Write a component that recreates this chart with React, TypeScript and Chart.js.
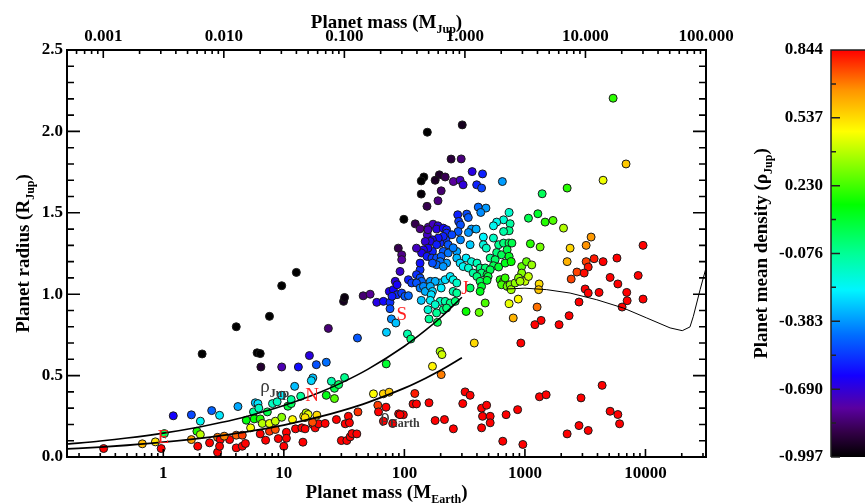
import React, { useEffect, useRef } from 'react';
import { Chart, registerables } from 'chart.js';

Chart.register(...registerables);

const SERIF = '"Liberation Serif", "DejaVu Serif", serif';
const M_EARTH_PER_JUP = 317.8;
const X_MIN_EARTH = 0.1589;
const X_MAX_EARTH = 31780;
const X_MIN_JUP = 0.0005;
const X_MAX_JUP = 100;
const Y_MIN = 0;
const Y_MAX = 2.5;
const DENSITY_MIN = -0.997;
const DENSITY_MAX = 0.844;

const bottomTicks = [1, 10, 100, 1000, 10000];
const topTicks = [0.001, 0.01, 0.1, 1, 10, 100];
const radiusTicks = [0, 0.5, 1, 1.5, 2, 2.5];
const densityTicks = [-0.997, -0.69, -0.383, -0.076, 0.23, 0.537, 0.844];

// [mass (M_Earth), radius (R_Jup)]
const rockyPlanets: [number, number][] = [
  [0.32, 0.052], [0.67, 0.081], [0.86, 0.093], [0.96, 0.052], [1.02, 0.144], [1.21, 0.253],
  [1.71, 0.107], [1.71, 0.259], [1.9, 0.158], [2.03, 0.138], [1.93, 0.066], [2.03, 0.22],
  [2.1, 0.633], [2.52, 0.285], [2.42, 0.087], [2.82, 0.121], [2.97, 0.107], [2.93, 0.256],
  [2.82, 0.029], [2.93, 0.066], [3.55, 0.107], [3.2, 0.128], [4.03, 0.8], [4.16, 0.31],
  [4.03, 0.134], [4.03, 0.056], [4.52, 0.134], [4.52, 0.066], [4.8, 0.083], [4.88, 0.226],
  [5.3, 0.179], [6.0, 0.64], [6.37, 0.635], [6.45, 0.553], [5.6, 0.277], [5.8, 0.333],
  [6.1, 0.328], [6.2, 0.3], [5.7, 0.234], [6.37, 0.142], [6.37, 0.234], [6.62, 0.206],
  [7.06, 0.103], [7.3, 0.277], [7.6, 0.206], [7.6, 0.864], [7.6, 0.158], [8.05, 0.328],
  [8.5, 0.22], [8.5, 0.169], [8.8, 0.339], [9.0, 0.113], [9.6, 1.052], [9.6, 0.553],
  [9.6, 0.379], [9.6, 0.244], [10.0, 0.066], [10.5, 0.152], [10.8, 0.312], [11.5, 0.328],
  [11.8, 0.23], [11.5, 0.353], [12.3, 0.434], [12.5, 0.173], [12.7, 1.134], [13.2, 0.553],
  [13.8, 0.373], [14.1, 0.179], [14.4, 0.091], [14.6, 0.25], [15.3, 0.271], [15.9, 0.261],
  [15.0, 0.242], [16.3, 0.623], [17.4, 0.2], [17.4, 0.486], [16.9, 0.469], [18.6, 0.567],
  [18.8, 0.257], [18.2, 0.179], [19.4, 0.204], [22.0, 0.206], [22.5, 0.582], [22.5, 0.379],
  [23.4, 0.79], [24.8, 0.465], [26.3, 0.422], [26.3, 0.359], [27.3, 0.23], [28.5, 0.445],
  [30.0, 0.101], [31.3, 0.956], [31.9, 0.98], [31.9, 0.488], [32.3, 0.204], [33.3, 0.101],
  [34.3, 0.25], [35.5, 0.124], [35.0, 0.21], [36.8, 0.144], [40.3, 0.142], [41.2, 0.277],
  [40.8, 0.731], [17.3, 0.213], [15.0, 0.173], [10.5, 0.115],
];

const inflatedGiants: [number, number][] = [
  [155, 1.995], [145, 1.72], [138, 1.696], [195, 1.733], [180, 1.7], [218, 1.72], [138, 1.615],
  [202, 1.635], [190, 1.574], [154, 1.54], [99, 1.46], [123, 1.432], [135, 1.402], [158, 1.412],
  [173, 1.43], [190, 1.42], [185, 1.4], [210, 1.406], [224, 1.396], [155, 1.365],
  [302, 2.04], [244, 1.83], [296, 1.831], [255, 1.692], [290, 1.7], [307, 1.672], [365, 1.753],
  [445, 1.739], [398, 1.672], [437, 1.652], [650, 1.692], [410, 1.535], [475, 1.529], [430, 1.502],
  [277, 1.488], [329, 1.492], [339, 1.471], [282, 1.447], [292, 1.426], [279, 1.385], [360, 1.4],
  [394, 1.4], [224, 1.375], [340, 1.379], [452, 1.351], [548, 1.345],
];

const hotJupiters: [number, number][] = [
  [740, 1.502], [665, 1.457], [583, 1.443], [548, 1.42], [754, 1.433], [740, 1.39], [665, 1.385],
  [221, 1.334], [248, 1.365], [231, 1.304], [198, 1.314], [210, 1.263], [231, 1.253], [272, 1.263],
  [254, 1.285], [292, 1.334], [351, 1.304], [452, 1.304], [478, 1.283], [605, 1.304], [665, 1.314],
  [740, 1.314], [780, 1.314], [583, 1.256], [640, 1.242], [712, 1.273], [740, 1.232],
  [224, 1.191], [272, 1.222], [290, 1.191], [307, 1.17], [325, 1.222], [360, 1.2], [400, 1.191],
  [340, 1.161], [425, 1.161], [468, 1.161], [437, 1.13], [372, 1.13], [400, 1.109], [485, 1.12],
  [515, 1.222], [566, 1.212], [548, 1.175], [515, 1.15], [495, 1.109], [425, 1.079], [437, 1.048],
  [425, 1.017], [485, 1.085], [605, 1.167], [685, 1.191], [770, 1.2], [623, 1.089], [665, 1.079],
  [685, 1.1], [640, 1.058], [712, 1.048], [754, 1.058], [770, 1.028], [829, 1.069], [940, 1.17],
  [1030, 1.2], [1140, 1.18], [940, 1.13], [885, 1.1], [1000, 1.079], [912, 1.079], [1070, 1.109],
  [351, 1.038], [198, 1.069], [218, 1.089], [240, 1.109], [254, 1.089], [272, 1.069], [254, 1.017],
  [272, 1.007], [198, 0.956], [218, 0.956], [240, 0.946], [264, 0.956], [210, 0.905], [224, 0.915],
  [325, 0.894], [417, 0.888], [468, 0.946],
  [157, 1.396], [210, 1.355], [191, 1.345], [171, 1.334], [164, 1.324], [149, 1.324], [185, 1.304],
  [171, 1.263], [157, 1.283], [144, 1.273], [139, 1.253], [154, 1.232], [169, 1.222], [185, 1.222],
  [202, 1.232], [198, 1.2], [185, 1.181], [171, 1.191], [210, 1.17], [89, 1.283], [95, 1.242],
  [95, 1.212], [126, 1.283], [92, 1.14], [135, 1.15], [135, 1.191], [45.5, 0.99], [52, 1.0],
  [59, 0.95], [67, 0.956], [76, 0.95], [75, 1.017], [81, 1.028], [84, 1.079], [87, 1.058],
  [87, 0.997], [95, 1.007], [101, 0.987], [108, 0.991], [79, 0.987], [108, 1.089], [115, 1.069],
  [126, 1.12], [135, 1.1], [139, 1.079], [126, 1.069], [135, 1.038], [144, 1.048], [149, 1.017],
  [164, 1.079], [180, 1.079], [164, 1.048], [202, 1.038], [171, 1.017], [167, 0.997], [138, 0.962],
  [164, 0.962], [180, 0.936], [76, 0.911], [78, 0.848], [85, 0.823], [157, 0.905], [160, 0.848],
  [185, 0.885], [188, 0.827], [71, 0.766], [106, 0.756], [113, 0.725],
];

const denseGiants: [number, number][] = [
  [55.4, 0.388], [60.2, 0.318], [61, 0.277], [66.9, 0.388], [67, 0.22], [70.4, 0.306], [74.8, 0.398],
  [80, 0.206], [89.6, 0.265], [98, 0.26], [92, 0.26], [122, 0.39], [118, 0.326], [126, 0.326],
  [160, 0.333], [180, 0.224], [215, 0.23], [255, 0.173], [305, 0.328], [319, 0.4], [351, 0.379],
  [437, 0.3], [481, 0.318], [445, 0.25], [515, 0.25], [437, 0.179], [515, 0.21], [698, 0.26],
  [870, 0.291], [655, 0.097], [961, 0.077], [1320, 0.37], [1500, 0.382], [198, 0.649], [205, 0.629],
  [171, 0.557], [202, 0.506], [380, 0.7], [925, 0.7], [70.7, 0.572],
];

const massiveGiants: [number, number][] = [
  [2870, 2.52], [5390, 2.204], [6900, 1.8], [4450, 1.7], [2240, 1.652], [1390, 1.617], [1070, 1.467],
  [1280, 1.494], [1470, 1.443], [1710, 1.453], [2090, 1.406], [3540, 1.351], [3220, 1.3], [2370, 1.283],
  [9550, 1.3], [1110, 1.31], [1337, 1.29], [2240, 1.2], [3220, 1.2], [3750, 1.218], [4450, 1.2],
  [5800, 1.222], [3350, 1.167], [2700, 1.136], [3100, 1.13], [2420, 1.093], [5090, 1.103], [5900, 1.063],
  [8700, 1.115], [3160, 1.032], [3350, 1.007], [4120, 1.011], [6990, 1.011], [7050, 0.96], [9550, 0.97],
  [6400, 0.921], [2810, 0.952], [1262, 0.921], [1362, 0.839], [1210, 0.813], [1920, 0.813], [2325, 0.868],
  [800, 0.854], [740, 0.942], [880, 0.97], [1312, 1.063], [1300, 1.028], [4370, 0.44], [2920, 0.363],
  [2240, 0.142], [2810, 0.193], [3350, 0.163], [5090, 0.281], [5900, 0.261], [6100, 0.204],
];

// iso-density and model curves [mass (M_Earth), radius (R_Jup)]
const jupDensityCurve: [number, number][] = [
  [0.1589, 0.0794], [0.3, 0.0981], [0.5, 0.1163], [1, 0.1466], [2, 0.1847], [3, 0.2114], [5, 0.2507],
  [10, 0.3158], [20, 0.3979], [30, 0.4553], [50, 0.5399], [100, 0.6802], [150, 0.7787], [200, 0.857],
  [300, 0.981],
];
const earthDensityCurve: [number, number][] = [
  [0.1589, 0.0494], [0.3, 0.061], [0.5, 0.0723], [1, 0.0911], [2, 0.1148], [3, 0.1314], [5, 0.1558],
  [10, 0.1963], [20, 0.2473], [30, 0.283], [50, 0.3356], [100, 0.4228], [150, 0.4841], [200, 0.5327],
  [300, 0.6098],
];
const giantModelCurve: [number, number][] = [
  [700, 1.032], [1000, 1.037], [1515, 1.028], [2370, 1.007], [3945, 0.966], [6560, 0.915],
  [10250, 0.854], [16000, 0.793], [20200, 0.776], [23400, 0.799], [24950, 0.864], [28400, 1.028],
  [31780, 1.161],
];

const solarLabels = ['E', 'N', 'S', 'J'];
const solarMass = [1.0, 17.15, 95.16, 317.8];
const solarRadius = [0.089, 0.346, 0.843, 1.0];

const densityLabelMass = [6.37, 63];
const densityLabelRadius = [0.4, 0.212];
const densityLabelSub = ['Jup', 'Earth'];

const COLOR_STOPS: [number, number, number, number][] = [
  [0.0, 0, 0, 0],
  [0.06, 50, 0, 70],
  [0.12, 90, 0, 160],
  [0.2, 20, 0, 255],
  [0.3, 0, 110, 255],
  [0.41, 0, 245, 255],
  [0.5, 0, 255, 150],
  [0.62, 0, 255, 0],
  [0.8, 255, 255, 0],
  [0.9, 255, 150, 0],
  [1.0, 255, 0, 0],
];

function colorAt(t: number): string {
  const tt = Math.max(0, Math.min(1, t));
  for (let i = 1; i < COLOR_STOPS.length; i++) {
    const a = COLOR_STOPS[i - 1];
    const b = COLOR_STOPS[i];
    if (tt <= b[0]) {
      const f = (tt - a[0]) / (b[0] - a[0]);
      const r = Math.round(a[1] + (b[1] - a[1]) * f);
      const g = Math.round(a[2] + (b[2] - a[2]) * f);
      const bl = Math.round(a[3] + (b[3] - a[3]) * f);
      return `rgb(${r},${g},${bl})`;
    }
  }
  return 'rgb(255,0,0)';
}

function densityColor(massEarth: number, radiusJup: number): string {
  const logRho = Math.log10(massEarth / M_EARTH_PER_JUP / Math.pow(radiusJup, 3));
  return colorAt((logRho - DENSITY_MIN) / (DENSITY_MAX - DENSITY_MIN));
}

type Part = { t: string; sub?: boolean };
function drawRich(ctx: CanvasRenderingContext2D, parts: Part[], x: number, y: number, align: 'left' | 'center', mainFont: string, subFont: string, drop: number) {
  ctx.textAlign = 'left';
  ctx.textBaseline = 'alphabetic';
  const widths = parts.map((p) => {
    ctx.font = p.sub ? subFont : mainFont;
    return ctx.measureText(p.t).width;
  });
  const total = widths.reduce((s, w) => s + w, 0);
  let cx = align === 'center' ? x - total / 2 : x;
  parts.forEach((p, i) => {
    ctx.font = p.sub ? subFont : mainFont;
    ctx.fillText(p.t, cx, y + (p.sub ? drop : 0));
    cx += widths[i];
  });
}

const TITLE_FONT = `bold 19px ${SERIF}`;
const SUB_FONT = `bold 12px ${SERIF}`;
const TICK_FONT = { family: '"Liberation Serif", serif', size: 17, weight: 'bold' as const };

const mainDecor = {
  id: 'mainDecor',
  afterDatasetsDraw(chart: any) {
    const { ctx, scales } = chart;
    const xs = scales.x;
    const ys = scales.y;
    ctx.save();
    ctx.fillStyle = '#ff2020';
    ctx.font = `19px ${SERIF}`;
    ctx.textAlign = 'center';
    ctx.textBaseline = 'alphabetic';
    solarLabels.forEach((lab, i) => {
      ctx.fillText(lab, xs.getPixelForValue(solarMass[i]), ys.getPixelForValue(solarRadius[i]));
    });
    ctx.fillStyle = '#3a3a3a';
    densityLabelSub.forEach((sub, i) => {
      drawRich(ctx, [{ t: 'ρ' }, { t: sub, sub: true }], xs.getPixelForValue(densityLabelMass[i]), ys.getPixelForValue(densityLabelRadius[i]), 'left', `19px ${SERIF}`, `bold 12px ${SERIF}`, 5);
    });
    ctx.restore();
  },
  afterDraw(chart: any) {
    const { ctx, chartArea: a, scales } = chart;
    const xs = scales.x;
    const xt = scales.x2;
    const ys = scales.y;
    ctx.save();
    ctx.strokeStyle = '#000';
    ctx.lineWidth = 2;
    ctx.strokeRect(a.left, a.top, a.right - a.left, a.bottom - a.top);
    ctx.lineWidth = 1.6;
    ctx.beginPath();
    for (let e = -1; e <= 4; e++) {
      for (let d = 1; d <= 9; d++) {
        const v = d * Math.pow(10, e);
        if (v <= X_MIN_EARTH || v >= X_MAX_EARTH) continue;
        const px = xs.getPixelForValue(v);
        const len = d === 1 ? 8 : 4;
        ctx.moveTo(px, a.bottom);
        ctx.lineTo(px, a.bottom - len);
      }
    }
    for (let e = -4; e <= 2; e++) {
      for (let d = 1; d <= 9; d++) {
        const v = d * Math.pow(10, e);
        if (v <= X_MIN_JUP * 1.0001 || v >= X_MAX_JUP * 0.9999) continue;
        const px = xt.getPixelForValue(v);
        const len = d === 1 ? 8 : 4;
        ctx.moveTo(px, a.top);
        ctx.lineTo(px, a.top + len);
      }
    }
    for (let i = 1; i < 25; i++) {
      const v = i / 10;
      const py = ys.getPixelForValue(v);
      const len = i % 5 === 0 ? 13 : 7;
      ctx.moveTo(a.left, py);
      ctx.lineTo(a.left + len, py);
      ctx.moveTo(a.right, py);
      ctx.lineTo(a.right - len, py);
    }
    ctx.stroke();

    ctx.fillStyle = '#000';
    const cx = (a.left + a.right) / 2;
    drawRich(ctx, [{ t: 'Planet mass (M' }, { t: 'Jup', sub: true }, { t: ')' }], cx, 28, 'center', TITLE_FONT, SUB_FONT, 5);
    drawRich(ctx, [{ t: 'Planet mass (M' }, { t: 'Earth', sub: true }, { t: ')' }], cx, 498, 'center', TITLE_FONT, SUB_FONT, 5);
    ctx.save();
    ctx.translate(29, (a.top + a.bottom) / 2);
    ctx.rotate(-Math.PI / 2);
    drawRich(ctx, [{ t: 'Planet radius (R' }, { t: 'Jup', sub: true }, { t: ')' }], 0, 0, 'center', TITLE_FONT, SUB_FONT, 5);
    ctx.restore();
    ctx.restore();
  },
};

const colorbarDecor = {
  id: 'colorbarDecor',
  beforeDatasetsDraw(chart: any) {
    const { ctx, chartArea: a, scales } = chart;
    const ys = scales.y;
    ctx.save();
    const g = ctx.createLinearGradient(0, a.bottom, 0, a.top);
    COLOR_STOPS.forEach((s) => g.addColorStop(s[0], `rgb(${s[1]},${s[2]},${s[3]})`));
    ctx.fillStyle = g;
    ctx.fillRect(a.left, a.top, a.right - a.left, a.bottom - a.top);
    ctx.strokeStyle = '#222';
    ctx.lineWidth = 1.5;
    ctx.beginPath();
    ctx.moveTo(a.left, a.bottom);
    ctx.lineTo(a.left, a.top);
    ctx.lineTo(a.right, a.top);
    densityTicks.forEach((v, i) => {
      const py = ys.getPixelForValue(v);
      ctx.moveTo(a.left, py);
      ctx.lineTo(a.left + 9, py);
      if (i < densityTicks.length - 1) {
        const pm = ys.getPixelForValue((v + densityTicks[i + 1]) / 2);
        ctx.moveTo(a.left, pm);
        ctx.lineTo(a.left + 5, pm);
      }
    });
    ctx.stroke();
    ctx.restore();
  },
  afterDraw(chart: any) {
    const { ctx, chartArea: a } = chart;
    ctx.save();
    ctx.fillStyle = '#000';
    ctx.translate(27, (a.top + a.bottom) / 2);
    ctx.rotate(-Math.PI / 2);
    drawRich(ctx, [{ t: 'Planet mean density (ρ' }, { t: 'Jup', sub: true }, { t: ')' }], 0, 0, 'center', TITLE_FONT, SUB_FONT, 5);
    ctx.restore();
  },
};

function toXY(list: [number, number][]) {
  return list.map(([m, r]) => ({ x: m, y: r }));
}

export default function App() {
  const mainRef = useRef<HTMLCanvasElement>(null);
  const barRef = useRef<HTMLCanvasElement>(null);

  useEffect(() => {
    document.body.style.margin = '0';
    const allPlanets = [...rockyPlanets, ...inflatedGiants, ...hotJupiters, ...denseGiants, ...massiveGiants];
    const pts = toXY(allPlanets);
    const colors = allPlanets.map(([m, r]) => densityColor(m, r));

    const curveStyle = {
      showLine: true,
      pointRadius: 0,
      borderColor: '#000',
      backgroundColor: '#000',
      fill: false,
      cubicInterpolationMode: 'monotone' as const,
    };

    const main = new Chart(mainRef.current as HTMLCanvasElement, {
      type: 'scatter',
      data: {
        datasets: [
          { ...curveStyle, data: toXY(jupDensityCurve), borderWidth: 1.6, order: 0 } as any,
          { ...curveStyle, data: toXY(earthDensityCurve), borderWidth: 1.8, order: 0 } as any,
          { ...curveStyle, data: toXY(giantModelCurve), borderWidth: 1, cubicInterpolationMode: 'default', tension: 0, order: 0 } as any,
          {
            data: pts,
            backgroundColor: colors,
            borderColor: '#1a1a1a',
            borderWidth: 1,
            pointRadius: 4,
            pointHoverRadius: 4,
            clip: 0,
            order: 1,
          } as any,
        ],
      },
      options: {
        animation: false,
        responsive: false,
        events: [],
        layout: { padding: 0 },
        plugins: { legend: { display: false }, tooltip: { enabled: false } },
        scales: {
          x: {
            type: 'logarithmic',
            position: 'bottom',
            min: X_MIN_EARTH,
            max: X_MAX_EARTH,
            afterBuildTicks: (s: any) => { s.ticks = bottomTicks.map((v) => ({ value: v })); },
            afterFit: (s: any) => { s.height = 47; },
            ticks: { font: TICK_FONT, color: '#000', padding: 6, autoSkip: false, maxRotation: 0, callback: (v: any) => String(v) },
            grid: { display: false, drawTicks: false },
            border: { display: false },
          },
          x2: {
            type: 'logarithmic',
            position: 'top',
            min: X_MIN_JUP,
            max: X_MAX_JUP,
            afterBuildTicks: (s: any) => { s.ticks = topTicks.map((v) => ({ value: v })); },
            afterFit: (s: any) => { s.height = 50; },
            ticks: { font: TICK_FONT, color: '#000', padding: 3, autoSkip: false, maxRotation: 0, callback: (v: any) => Number(v).toFixed(3) },
            grid: { display: false, drawTicks: false },
            border: { display: false },
          },
          y: {
            type: 'linear',
            position: 'left',
            min: Y_MIN,
            max: Y_MAX,
            afterBuildTicks: (s: any) => { s.ticks = radiusTicks.map((v) => ({ value: v })); },
            afterFit: (s: any) => { s.width = 67; },
            ticks: { font: TICK_FONT, color: '#000', padding: 4, autoSkip: false, callback: (v: any) => Number(v).toFixed(1) },
            grid: { display: false, drawTicks: false },
            border: { display: false },
          },
          y2: {
            type: 'linear',
            position: 'right',
            min: Y_MIN,
            max: Y_MAX,
            afterFit: (s: any) => { s.width = 34; },
            ticks: { display: false },
            grid: { display: false, drawTicks: false },
            border: { display: false },
          },
        } as any,
      },
      plugins: [mainDecor],
    });

    const bar = new Chart(barRef.current as HTMLCanvasElement, {
      type: 'scatter',
      data: { datasets: [] },
      options: {
        animation: false,
        responsive: false,
        events: [],
        layout: { padding: { top: 50, bottom: 47, left: 0, right: 0 } },
        plugins: { legend: { display: false }, tooltip: { enabled: false } },
        scales: {
          x: { display: false, min: 0, max: 1 },
          y: {
            type: 'linear',
            position: 'left',
            min: DENSITY_MIN,
            max: DENSITY_MAX,
            afterBuildTicks: (s: any) => { s.ticks = densityTicks.map((v) => ({ value: v })); },
            afterFit: (s: any) => { s.width = 91; },
            ticks: { font: TICK_FONT, color: '#000', padding: 8, autoSkip: false, callback: (v: any) => Number(v).toFixed(3) },
            grid: { display: false, drawTicks: false },
            border: { display: false },
          },
        } as any,
      },
      plugins: [colorbarDecor],
    });

    return () => {
      main.destroy();
      bar.destroy();
    };
  }, []);

  return (
    <div style={{ position: 'relative', width: 865, height: 504, background: '#fff', overflow: 'hidden' }}>
      <canvas ref={mainRef} width={740} height={504} style={{ position: 'absolute', left: 0, top: 0, width: 740, height: 504 }} />
      <canvas ref={barRef} width={125} height={504} style={{ position: 'absolute', left: 740, top: 0, width: 125, height: 504 }} />
    </div>
  );
}
